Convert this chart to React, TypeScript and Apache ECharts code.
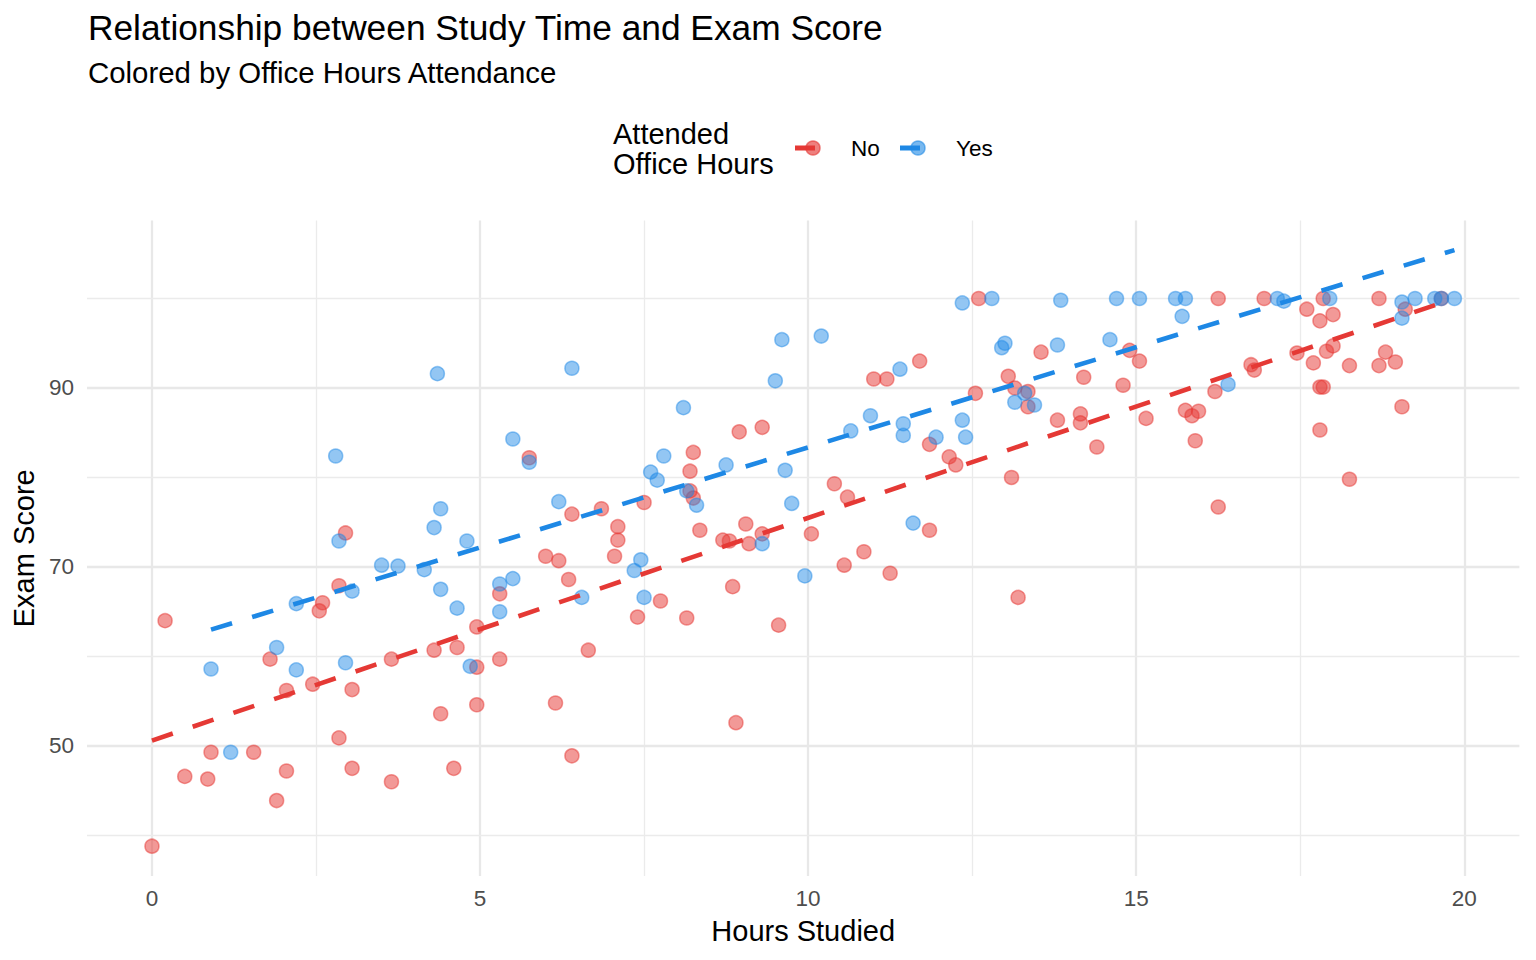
import React, { useEffect, useRef } from "react";
import * as echarts from "echarts";

// ---- Data ----
const noHours = [
  0, 0.2, 0.5, 0.85, 0.9, 1.55, 1.8, 1.9, 2.05, 2.05, 2.45, 2.55, 2.6, 2.85, 2.85, 2.95, 3.05, 3.05, 3.65, 3.65,
  4.3, 4.4, 4.6, 4.65, 4.95, 4.95, 4.95, 5.3, 5.3, 5.75, 6.0, 6.15, 6.2, 6.35, 6.4, 6.4, 6.65, 6.85, 7.05, 7.1,
  7.1, 7.4, 7.5, 7.75, 8.15, 8.2, 8.2, 8.25, 8.25, 8.35, 8.7, 8.8, 8.85, 8.9, 8.95, 9.05, 9.1, 9.3, 9.3, 9.55,
  10.05, 10.4, 10.6, 10.55, 10.85, 11.0, 11.2, 11.25, 11.7, 11.85, 11.85, 12.15, 12.25, 12.55, 12.6, 13.05, 13.1, 13.2, 13.15, 13.35,
  13.35, 13.55, 13.8, 14.15, 14.15, 14.2, 14.4, 14.8, 14.9, 15.05, 15.15, 15.75, 15.85, 15.9, 15.95, 16.2, 16.25, 16.25, 16.75, 16.8,
  16.95, 17.45, 17.6, 17.7, 17.8, 17.8, 17.85, 17.8, 17.85, 17.9, 18.0, 18.0, 18.25, 18.25, 18.7, 18.7, 18.8, 18.95, 19.05, 19.65,
  19.1,
];
const noScores = [
  38.8, 64, 46.6, 46.3, 49.3, 49.3, 59.7, 43.9, 56.2, 47.2, 56.9, 65.1, 66, 67.9, 50.9, 73.8, 56.3, 47.5, 59.7, 46,
  60.7, 53.6, 47.5, 61, 58.8, 63.3, 54.6, 67, 59.7, 82.2, 71.2, 54.8, 70.7, 68.6, 75.9, 48.9, 60.7, 76.5, 71.2, 73,
  74.5, 64.4, 77.2, 66.2, 64.3, 80.7, 78.5, 82.8, 77.7, 74.1, 73, 72.9, 67.8, 52.6, 85.1, 74.8, 72.6, 85.6, 73.7, 63.5,
  73.7, 79.3, 77.8, 70.2, 71.7, 91, 91, 69.3, 93, 83.7, 74.1, 82.3, 81.4, 89.4, 100, 91.3, 80, 66.6, 90, 89.6,
  87.9, 94, 86.4, 87.1, 86.1, 91.2, 83.4, 90.3, 94.2, 93, 86.6, 87.5, 86.9, 84.1, 87.4, 89.6, 76.7, 100, 92.6, 92,
  100, 93.9, 98.8, 92.8, 97.5, 90.1, 90.1, 85.3, 100, 94.1, 94.7, 98.2, 92.5, 79.8, 100, 92.5, 94, 92.9, 87.9, 100,
  98.8,
];
const yesHours = [
  0.9, 1.2, 1.9, 2.2, 2.2, 2.8, 2.85, 2.95, 3.05, 3.5, 3.75, 4.15, 4.3, 4.35, 4.4, 4.4, 4.65, 4.8, 4.85, 5.3,
  5.3, 5.5, 5.5, 5.75, 6.2, 6.4, 6.55, 7.35, 7.45, 7.5, 7.6, 7.7, 7.8, 8.1, 8.15, 8.3, 8.75, 9.3, 9.5, 9.6,
  9.65, 9.75, 9.95, 10.2, 10.65, 10.95, 11.4, 11.45, 11.45, 11.6, 11.95, 12.35, 12.35, 12.4, 12.8, 12.95, 13.0, 13.15, 13.3, 13.45,
  13.85, 13.8, 14.6, 14.7, 15.05, 15.6, 15.75, 15.7, 16.4, 17.15, 17.25, 17.95, 19.05, 19.05, 19.25, 19.55, 19.65, 19.85,
];
const yesScores = [
  58.6, 49.3, 61, 65.9, 58.5, 82.4, 72.9, 59.3, 67.3, 70.2, 70.1, 69.7, 74.4, 91.6, 76.5, 67.5, 65.4, 72.9, 58.9, 68.1,
  65, 68.7, 84.3, 81.7, 77.3, 92.2, 66.6, 69.6, 70.8, 66.6, 80.6, 79.7, 82.4, 87.8, 78.5, 76.9, 81.4, 72.6, 90.8, 95.4,
  80.8, 77.1, 69, 95.8, 85.2, 86.9, 92.1, 86, 84.7, 74.9, 84.5, 99.5, 86.4, 84.5, 100, 94.5, 95, 88.4, 89.4, 88.1,
  99.8, 94.8, 95.4, 100, 100, 100, 100, 98, 90.4, 100, 99.7, 100, 99.6, 97.8, 100, 100, 100, 100,
];
// fitted trend lines (end points)
const noTrendHours = [0, 19.65];
const noTrendScores = [50.6, 99.5];
const yesTrendHours = [0.9, 19.85];
const yesTrendScores = [63.0, 105.4];

const xTickLabels = [0, 5, 10, 15, 20];
const yTickLabels = [50, 70, 90];
const xMinorGrid = [2.5, 7.5, 12.5, 17.5];
const yMinorGrid = [40, 60, 80, 100];

const RED = "#E53935";
const BLUE = "#1E88E5";
const RED_A = "rgba(229,57,53,0.64)";
const BLUE_A = "rgba(30,136,229,0.6)";
const FONT = "'Liberation Sans', Arial, Helvetica, sans-serif";

const zip = (a: number[], b: number[]) => a.map((v, i) => [v, b[i]]);

export default function App() {
  const ref = useRef<HTMLDivElement>(null);
  useEffect(() => {
    if (!ref.current) return;
    const chart = echarts.init(ref.current, undefined, { renderer: "svg" });
    const major = { color: "#e8e8e8", width: 2.3, type: "solid" };
    const minor = { color: "#ebebeb", width: 1.3, type: "solid" };
    const gridLines = [
      ...xTickLabels.map((v) => ({ xAxis: v, lineStyle: major })),
      ...xMinorGrid.map((v) => ({ xAxis: v, lineStyle: minor })),
      ...yTickLabels.map((v) => ({ yAxis: v, lineStyle: major })),
      ...yMinorGrid.map((v) => ({ yAxis: v, lineStyle: minor })),
    ];
    const pointStyle = (fill: string) => ({
      color: fill,
      borderColor: fill,
      borderWidth: 1.5,
    });
    const option: any = {
      animation: false,
      backgroundColor: "#ffffff",
      textStyle: { fontFamily: FONT },
      title: [
        {
          text: "Relationship between Study Time and Exam Score",
          left: 88,
          top: 10,
          padding: 0,
          textStyle: { fontSize: 35.3, fontWeight: "normal", color: "#000", fontFamily: FONT },
        },
        {
          text: "Colored by Office Hours Attendance",
          left: 88,
          top: 58,
          padding: 0,
          textStyle: { fontSize: 29.4, fontWeight: "normal", color: "#000", fontFamily: FONT },
        },
      ],
      grid: { left: 87, right: 16.6, top: 220.6, bottom: 84, containLabel: false },
      xAxis: {
        type: "value",
        min: -0.99,
        max: 20.84,
        name: "Hours Studied",
        nameLocation: "middle",
        nameGap: 40,
        nameTextStyle: { fontSize: 29, color: "#000", fontFamily: FONT },
        axisLine: { show: false },
        axisTick: { show: false },
        splitLine: { show: false },
        axisLabel: {
          customValues: xTickLabels,
          fontSize: 22.5,
          color: "#4d4d4d",
          margin: 11,
          fontFamily: FONT,
        },
      },
      yAxis: {
        type: "value",
        min: 35.47,
        max: 108.7,
        name: "Exam Score",
        nameLocation: "middle",
        nameGap: 48,
        nameTextStyle: { fontSize: 29, color: "#000", fontFamily: FONT },
        axisLine: { show: false },
        axisTick: { show: false },
        splitLine: { show: false },
        axisLabel: {
          customValues: yTickLabels,
          fontSize: 22.5,
          color: "#4d4d4d",
          margin: 13,
          fontFamily: FONT,
        },
      },
      series: [
        {
          name: "grid",
          type: "scatter",
          data: [],
          z: 0,
          silent: true,
          markLine: {
            z: 0,
            silent: true,
            symbol: ["none", "none"],
            label: { show: false },
            emphasis: { disabled: true },
            data: gridLines,
          },
        },
        {
          name: "No",
          type: "scatter",
          z: 2,
          symbolSize: 14,
          itemStyle: pointStyle(RED_A),
          data: zip(noHours, noScores),
        },
        {
          name: "Yes",
          type: "scatter",
          z: 2,
          symbolSize: 14,
          itemStyle: pointStyle(BLUE_A),
          data: zip(yesHours, yesScores),
        },
        {
          name: "No trend",
          type: "line",
          z: 3,
          showSymbol: false,
          symbol: "none",
          lineStyle: { color: RED, width: 4.6, type: [22, 21], cap: "butt" },
          data: zip(noTrendHours, noTrendScores),
        },
        {
          name: "Yes trend",
          type: "line",
          z: 3,
          showSymbol: false,
          symbol: "none",
          lineStyle: { color: BLUE, width: 4.6, type: [22, 21], cap: "butt" },
          data: zip(yesTrendHours, yesTrendScores),
        },
      ],
      graphic: [
        {
          type: "text",
          left: 613,
          top: 119,
          style: {
            text: "Attended\nOffice Hours",
            fontSize: 29,
            lineHeight: 30,
            fill: "#000",
            fontFamily: FONT,
          },
        },
        {
          type: "line",
          shape: { x1: 795, y1: 148, x2: 815, y2: 148 },
          style: { stroke: RED, lineWidth: 5 },
        },
        {
          type: "circle",
          shape: { cx: 813, cy: 148, r: 7 },
          style: { fill: RED_A, stroke: RED_A, lineWidth: 1.5 },
        },
        {
          type: "text",
          x: 851,
          y: 148,
          style: {
            text: "No",
            fontSize: 22.5,
            fill: "#000",
            fontFamily: FONT,
            verticalAlign: "middle",
          },
        },
        {
          type: "line",
          shape: { x1: 900, y1: 148, x2: 920, y2: 148 },
          style: { stroke: BLUE, lineWidth: 5 },
        },
        {
          type: "circle",
          shape: { cx: 918, cy: 148, r: 7 },
          style: { fill: BLUE_A, stroke: BLUE_A, lineWidth: 1.5 },
        },
        {
          type: "text",
          x: 956,
          y: 148,
          style: {
            text: "Yes",
            fontSize: 22.5,
            fill: "#000",
            fontFamily: FONT,
            verticalAlign: "middle",
          },
        },
      ],
    };
    chart.setOption(option);
    return () => chart.dispose();
  }, []);
  return (
    <div
      ref={ref}
      style={{ position: "fixed", left: 0, top: 0, width: "1536px", height: "960px", background: "#fff" }}
    />
  );
}
